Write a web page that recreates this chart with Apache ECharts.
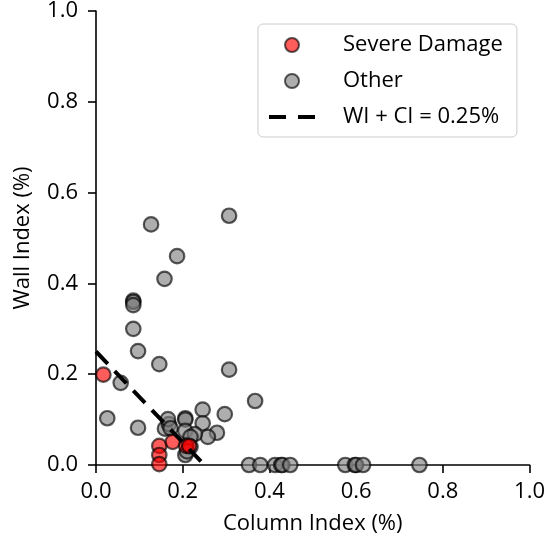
<!DOCTYPE html>
<html lang="en">
<head>
<meta charset="UTF-8">
<title>Wall Index vs Column Index</title>
<script src="https://cdn.jsdelivr.net/npm/echarts@6/dist/echarts.min.js"></script>
<style>
  html, body { margin: 0; padding: 0; background: #fff; }
</style>
</head>
<body>
<div id="main" style="width: 548px;height: 541px"></div>
<script>
// column index (%) / wall index (%) for each building
let otherCI = [0.127, 0.307, 0.187, 0.158, 0.086, 0.086, 0.086, 0.086, 0.097, 0.146, 0.307,
	0.057, 0.367, 0.026, 0.097, 0.159, 0.168, 0.166, 0.172, 0.206, 0.206, 0.206, 0.246, 0.246,
	0.297, 0.279, 0.258, 0.228, 0.218, 0.206, 0.218, 0.210,
	0.353, 0.379, 0.413, 0.427, 0.430, 0.448, 0.575, 0.597, 0.600, 0.616, 0.746]
let otherWI = [0.530, 0.549, 0.460, 0.410, 0.362, 0.359, 0.352, 0.300, 0.251, 0.222, 0.210,
	0.181, 0.141, 0.103, 0.082, 0.080, 0.090, 0.101, 0.081, 0.103, 0.100, 0.075, 0.122, 0.092,
	0.112, 0.071, 0.062, 0.068, 0.062, 0.022, 0.040, 0.030,
	0, 0, 0, 0, 0, 0, 0, 0, 0, 0, 0]
let severeCI = [0.017, 0.146, 0.146, 0.146, 0.177, 0.208, 0.215]
let severeWI = [0.199, 0.042, 0.022, 0.002, 0.051, 0.042, 0.042]
let limitCI = [0, 0.25]
let limitWI = [0.25, 0]
let ticks = [0, 0.2, 0.4, 0.6, 0.8, 1.0]

function pairs(xs, ys) {
	return xs.map(function (x, i) { return [x, ys[i]] })
}

let font = '"Open Sans", "Noto Sans", sans-serif'
let mycharts = echarts.init(document.getElementById("main"))

function axis(name, gap, margin) {
	return {
		type: 'value',
		min: ticks[0],
		max: ticks[ticks.length - 1],
		interval: 0.2,
		name: name,
		nameLocation: 'middle',
		nameGap: gap,
		nameTextStyle: { fontFamily: font, fontSize: 22, color: '#000' },
		splitLine: { show: false },
		axisLine: { show: true, onZero: false, lineStyle: { color: '#000', width: 1.6 } },
		axisTick: { show: true, length: 8, lineStyle: { color: '#000', width: 1.6 } },
		axisLabel: {
			margin: margin,
			fontFamily: font, fontSize: 22, color: '#000',
			formatter: function (v) { return v.toFixed(1) }
		}
	}
}

mycharts.setOption({
	animation: false,
	grid: { left: 96, right: 16, top: 10, bottom: 76 },
	xAxis: axis('Column Index (%)', 48, 16),
	yAxis: axis('Wall Index (%)', 62, 18),
	legend: {
		orient: 'vertical',
		left: 258,
		top: 24,
		padding: [8, 14, 7, 11],
		itemWidth: 46,
		itemHeight: 14,
		itemGap: 10,
		borderColor: '#cccccc',
		borderWidth: 1,
		borderRadius: 5,
		backgroundColor: 'rgba(255,255,255,0.8)',
		textStyle: { fontFamily: font, fontSize: 22, color: '#000', lineHeight: 26, padding: [0, 0, 0, 23] },
		data: [
			'Severe Damage',
			'Other',
			{
				name: 'WI + CI = 0.25%',
				icon: 'path://M0,0h17v4h-17z M29,0h17v4h-17z',
				itemStyle: { color: '#000', borderWidth: 0 }
			}
		]
	},
	series: [
		{
			name: 'Other',
			type: 'scatter',
			clip: false,
			symbolSize: 14.5,
			itemStyle: { color: 'rgba(128,128,128,0.8)', borderColor: 'rgba(0,0,0,0.8)', borderWidth: 2.2 },
			data: pairs(otherCI, otherWI)
		},
		{
			name: 'WI + CI = 0.25%',
			type: 'line',
			symbol: 'none',
			itemStyle: { color: '#000' },
			lineStyle: { color: '#000', width: 4, type: [17, 10] },
			data: pairs(limitCI, limitWI)
		},
		{
			name: 'Severe Damage',
			type: 'scatter',
			clip: false,
			symbolSize: 14.5,
			itemStyle: { color: 'rgba(255,0,0,0.8)', borderColor: 'rgba(0,0,0,0.8)', borderWidth: 2.2 },
			data: pairs(severeCI, severeWI)
		}
	]
})
</script>
</body>
</html>
